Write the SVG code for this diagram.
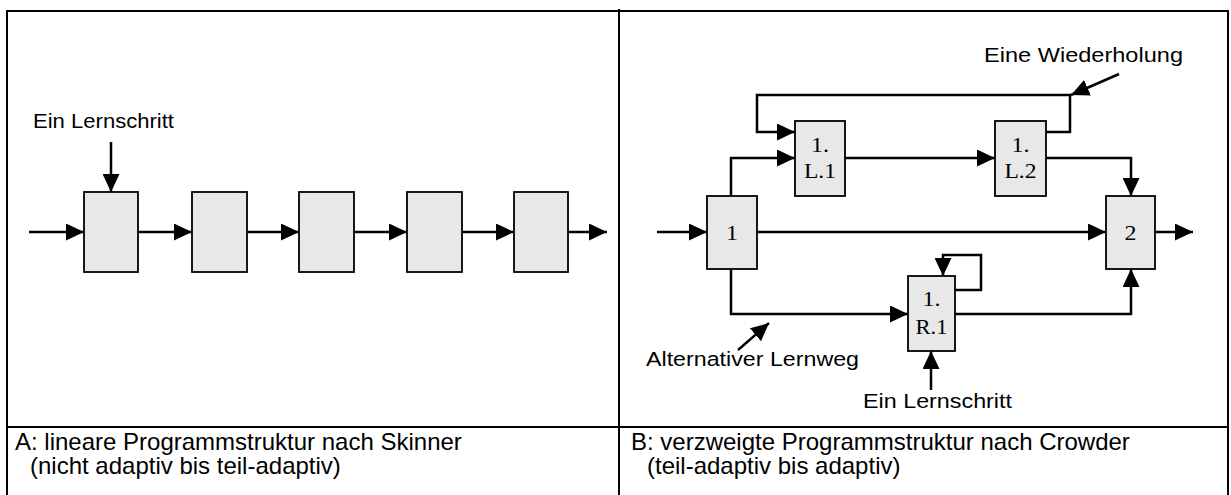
<svg xmlns="http://www.w3.org/2000/svg" width="1231" height="495" viewBox="0 0 1231 495">
<defs>
<marker id="ah" markerUnits="userSpaceOnUse" markerWidth="18" markerHeight="17" refX="18" refY="8.5" orient="auto" viewBox="0 0 18 17">
<path d="M0,0 L18,8.5 L0,17 z" fill="#000"/>
</marker>
<style>
.frame{fill:none;stroke:#000;stroke-width:2}
.box{fill:#e8e8e8;stroke:#000;stroke-width:1.8}
.conn{fill:none;stroke:#000;stroke-width:2.5;marker-end:url(#ah)}
.lbl{font-family:"Liberation Sans",Arial,sans-serif;font-size:20.5px;fill:#000}
.cap{font-family:"Liberation Sans",Arial,sans-serif;font-size:24px;fill:#000}
.bt{font-family:"Liberation Serif","Times New Roman",serif;font-size:21px;fill:#000;text-anchor:middle}
</style>
</defs>
<rect width="1231" height="495" fill="#fff"/>
<g id="frame">
<path class="frame" d="M7,11 H1228 M7,10 V495 M619,9 V495 M1228,10 V495 M7,427 H1228"/>
</g>
<g id="connectors">
<path class="conn" d="M111,142 V192"/>
<path class="conn" d="M29,232 H84"/>
<path class="conn" d="M138,232 H192"/>
<path class="conn" d="M247,232 H299"/>
<path class="conn" d="M354,232 H407"/>
<path class="conn" d="M462,232 H514"/>
<path class="conn" d="M568,232 H607"/>
<path class="conn" d="M657,232 H707"/>
<path class="conn" d="M757,232 H1106"/>
<path class="conn" d="M1155,232 H1193"/>
<path class="conn" d="M731,196 V158 H795"/>
<path class="conn" d="M1046,132 H1070 V95 H757 V132 H795"/>
<path class="conn" d="M845,158 H995"/>
<path class="conn" d="M1046,158 H1131 V196"/>
<path class="conn" d="M731,269 V314 H908"/>
<path class="conn" d="M955,290 H981 V255 H943 V276"/>
<path class="conn" d="M955,314 H1131 V269"/>
<path class="conn" d="M931,390 V351"/>
<path class="conn" d="M1119,74 L1071,95"/>
<path class="conn" d="M738,350 L769,323"/>
</g>
<g id="A1"><rect class="box" x="84" y="192" width="54" height="80"/></g>
<g id="A2"><rect class="box" x="192" y="192" width="55" height="80"/></g>
<g id="A3"><rect class="box" x="299" y="192" width="55" height="80"/></g>
<g id="A4"><rect class="box" x="407" y="192" width="55" height="80"/></g>
<g id="A5"><rect class="box" x="514" y="192" width="54" height="80"/></g>
<g id="B1"><rect class="box" x="707" y="196" width="50" height="73"/><text class="bt" x="732" y="240" textLength="12" lengthAdjust="spacingAndGlyphs">1</text></g>
<g id="B2"><rect class="box" x="1106" y="196" width="49" height="73"/><text class="bt" x="1130.5" y="240" textLength="12" lengthAdjust="spacingAndGlyphs">2</text></g>
<g id="BL1"><rect class="box" x="795" y="121" width="50" height="75"/><text class="bt" x="820" y="152" textLength="18" lengthAdjust="spacingAndGlyphs">1.</text><text class="bt" x="820" y="178" textLength="32" lengthAdjust="spacingAndGlyphs">L.1</text></g>
<g id="BL2"><rect class="box" x="995" y="121" width="51" height="75"/><text class="bt" x="1020.5" y="152" textLength="18" lengthAdjust="spacingAndGlyphs">1.</text><text class="bt" x="1020.5" y="178" textLength="32" lengthAdjust="spacingAndGlyphs">L.2</text></g>
<g id="BR1"><rect class="box" x="908" y="276" width="47" height="75"/><text class="bt" x="931.5" y="306" textLength="18" lengthAdjust="spacingAndGlyphs">1.</text><text class="bt" x="931.5" y="334" textLength="32" lengthAdjust="spacingAndGlyphs">R.1</text></g>
<g id="labels">
<text class="lbl" x="33" y="128" textLength="141" lengthAdjust="spacingAndGlyphs">Ein Lernschritt</text>
<text class="lbl" x="984" y="62" textLength="199" lengthAdjust="spacingAndGlyphs">Eine Wiederholung</text>
<text class="lbl" x="646" y="366" textLength="213" lengthAdjust="spacingAndGlyphs">Alternativer Lernweg</text>
<text class="lbl" x="863" y="408" textLength="149" lengthAdjust="spacingAndGlyphs">Ein Lernschritt</text>
</g>
<g id="captions">
<text class="cap" x="15" y="450">A: lineare Programmstruktur nach Skinner</text>
<text class="cap" x="30" y="474">(nicht adaptiv bis teil-adaptiv)</text>
<text class="cap" x="631" y="450">B: verzweigte Programmstruktur nach Crowder</text>
<text class="cap" x="647" y="474">(teil-adaptiv bis adaptiv)</text>
</g>
</svg>
